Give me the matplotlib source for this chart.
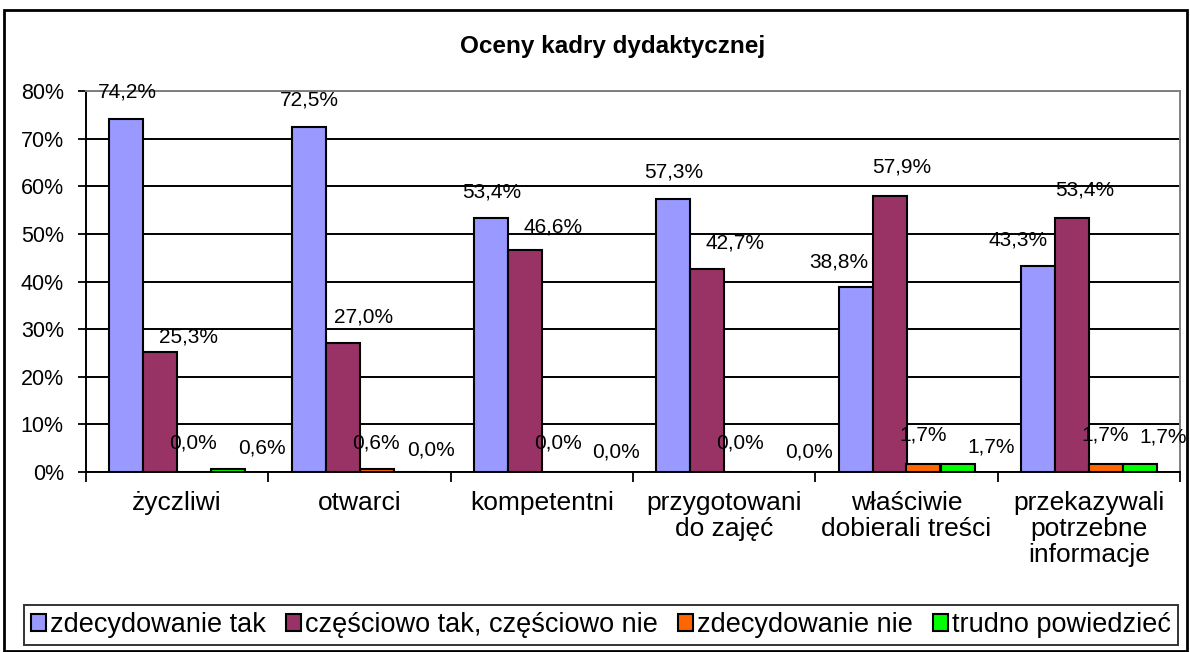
import numpy as np
import matplotlib
matplotlib.use("Agg")
import matplotlib.pyplot as plt
from matplotlib.patches import Rectangle

plt.rcParams['font.family'] = ['Liberation Sans', 'DejaVu Sans']

# data
categories = ['życzliwi', 'otwarci', 'kompetentni', 'przygotowani\ndo zajęć',
              'właściwie\ndobierali treści', 'przekazywali\npotrzebne\ninformacje']
series_names = ['zdecydowanie tak', 'częściowo tak, częściowo nie',
                'zdecydowanie nie', 'trudno powiedzieć']
tak = [74.2, 72.5, 53.4, 57.3, 38.8, 43.3]
czesciowo = [25.3, 27.0, 46.6, 42.7, 57.9, 53.4]
nie = [0.0, 0.6, 0.0, 0.0, 1.7, 1.7]
trudno = [0.6, 0.0, 0.0, 0.0, 1.7, 1.7]
y_ticks = [0, 10, 20, 30, 40, 50, 60, 70, 80]

colors = ['#9999FF', '#993366', '#FF6600', '#00FF00']

# label offsets in pixels (dx, dy) per series, per category - as placed in the original
label_dx = [[1, 1, 1, 1, -17, -20],
            [28, 21, 28, 28, 12, 13],
            [-1, -1, -1, -1, 0, -1],
            [34, 20, 23, 34, 34, 23]]
label_dy = [[27, 27, 26, 27, 25, 26],
            [15, 26, 23, 26, 29, 28],
            [29, 26, 29, 29, 29, 29],
            [21, 22, 20, 20, 17, 27]]

W, H = 1190, 652
fig = plt.figure(figsize=(W / 100, H / 100), dpi=100)
ax = fig.add_axes([86 / W, (H - 472) / H, (1180 - 86) / W, (472 - 91) / H])

x = np.arange(len(categories))
bw = 34 / ((1180 - 86) / 6)
all_series = [tak, czesciowo, nie, trudno]
for i, (vals, col, name) in enumerate(zip(all_series, colors, series_names)):
    pos = x + (i - 1.5) * bw
    ax.bar(pos, vals, bw, color=col, edgecolor='black', linewidth=1.5,
           label=name, zorder=3)
    for j, v in enumerate(vals):
        ax.annotate(f"{v:.1f}".replace('.', ',') + '%', (pos[j], v),
                    xytext=(label_dx[i][j], label_dy[i][j]),
                    textcoords='offset pixels', ha='center', va='center',
                    fontsize=15, zorder=5)

ax.set_xlim(-0.5, len(categories) - 0.5)
ax.set_ylim(0, 80)
ax.set_yticks(y_ticks)
ax.set_yticklabels([f"{t}%" for t in y_ticks], fontsize=15.5)
ax.tick_params(axis='y', length=6, width=1.3, pad=10, direction='out')

ax.set_xticks(np.arange(-0.5, len(categories)), minor=False)
ax.set_xticklabels([])
ax.set_xticks(x, minor=True)
ax.set_xticklabels(categories, minor=True, fontsize=19, linespacing=1.1)
ax.tick_params(axis='x', which='major', length=7, width=1.3, direction='out')
ax.tick_params(axis='x', which='minor', length=0, pad=14)

ax.yaxis.grid(True, color='black', linewidth=1.4, zorder=0)
ax.set_axisbelow(True)
for s in ['left', 'bottom']:
    ax.spines[s].set_linewidth(1.4)
    ax.spines[s].set_color('black')
for s in ['top', 'right']:
    ax.spines[s].set_linewidth(1.4)
    ax.spines[s].set_color('#808080')

fig.text(613 / W, 1 - 47 / H, 'Oceny kadry dydaktycznej', ha='center',
         va='center', fontsize=17.5, fontweight='bold')

leg = fig.legend(loc='center', ncol=4, mode='expand',
                 bbox_to_anchor=(24 / W, (H - 649) / H, (1178 - 24) / W, 48 / H),
                 fontsize=19.5, frameon=True, fancybox=False, edgecolor='black',
                 handlelength=0.55, handleheight=0.55, handletextpad=0.15,
                 borderpad=0.25, columnspacing=0.8, borderaxespad=0)
leg.get_frame().set_linewidth(1.4)

fig.add_artist(Rectangle((4 / W, 1 / H), (1187 - 4) / W, (651 - 10) / H,
                         transform=fig.transFigure, fill=False,
                         edgecolor='black', linewidth=2))

fig.savefig('out.png', dpi=100)
